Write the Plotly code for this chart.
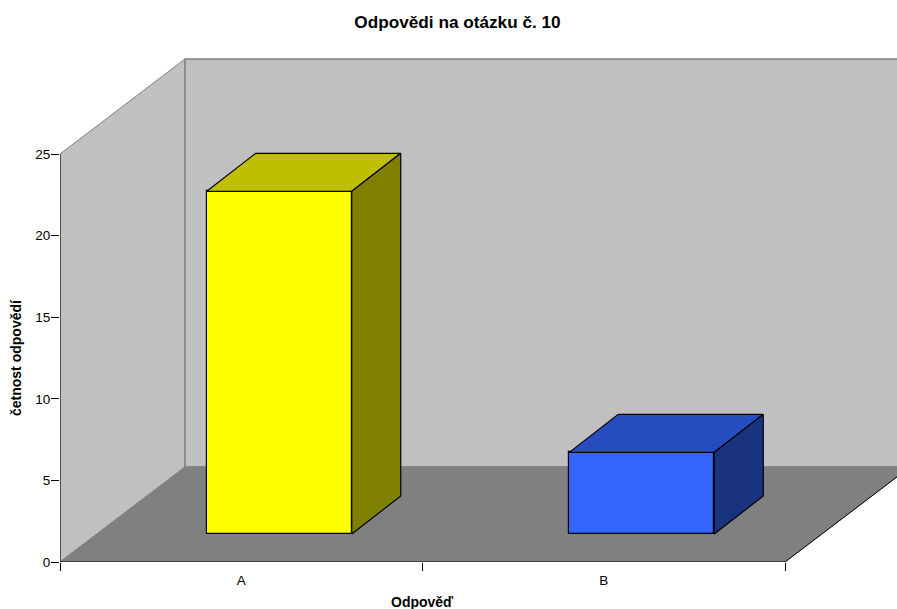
import plotly.graph_objects as go

categories = ["A", "B"]
values = [21, 5]
front_colors = ["#FFFF00", "#3366FF"]
top_colors = ["#BFBF00", "#264CBF"]
side_colors = ["#808000", "#19337F"]
y_ticks = [0, 5, 10, 15, 20, 25]
title_text = "Odpovědi na otázku č. 10"
x_title = "Odpověď"
y_title = "četnost odpovědí"

Y_MAX = 25
PX_X = 362.5          # pixels per category
PX_Y = 16.32          # pixels per count
WALL_DX = 125 / PX_X  # floor depth along x
WALL_DY = 95 / PX_Y   # floor depth along y
BAR_W = 145 / PX_X
BAR_SHIFT_X = 38 / PX_X
BAR_SHIFT_Y = 28 / PX_Y
BAR_DX = 49 / PX_X
BAR_DY = 38 / PX_Y
n = len(categories)
M_TOP, M_BOTTOM, M_LEFT = 50, 47, 60
PLOT_H = 609 - M_TOP - M_BOTTOM
PLOT_W = 897 - M_LEFT


def path(pts):
    return "M" + " L".join(f"{x},{y}" for x, y in pts) + " Z"


def panel(pts, fill, line, width=1):
    return dict(type="path", xref="x", yref="y", layer="below", path=path(pts),
                fillcolor=fill, line=dict(color=line, width=width))


shapes = [
    panel([(0, 0), (0, Y_MAX), (WALL_DX, Y_MAX + WALL_DY), (WALL_DX, WALL_DY)], "#C0C0C0", "#808080"),
    panel([(WALL_DX, WALL_DY), (WALL_DX, Y_MAX + WALL_DY), (n + WALL_DX, Y_MAX + WALL_DY), (n + WALL_DX, WALL_DY)],
          "#C0C0C0", "#808080", 1.5),
    panel([(0, 0), (n, 0), (n + WALL_DX, WALL_DY), (WALL_DX, WALL_DY)], "#808080", "#808080"),
]

fig = go.Figure()

centres = [i + 0.5 + BAR_SHIFT_X for i in range(n)]
fig.add_trace(go.Bar(
    x=centres, y=values, base=[BAR_SHIFT_Y] * n, width=BAR_W,
    marker=dict(color=front_colors, line=dict(color="black", width=1.2)),
    hoverinfo="skip", showlegend=False,
))

for c, v, top, side in zip(centres, values, top_colors, side_colors):
    x0, x1 = c - BAR_W / 2, c + BAR_W / 2
    y0, y1 = BAR_SHIFT_Y, BAR_SHIFT_Y + v
    fig.add_trace(go.Scatter(
        x=[x0, x1, x1 + BAR_DX, x0 + BAR_DX, x0],
        y=[y1, y1, y1 + BAR_DY, y1 + BAR_DY, y1],
        mode="lines", fill="toself", fillcolor=top,
        line=dict(color="black", width=1.2), hoverinfo="skip", showlegend=False))
    fig.add_trace(go.Scatter(
        x=[x1, x1 + BAR_DX, x1 + BAR_DX, x1, x1],
        y=[y0, y0 + BAR_DY, y1 + BAR_DY, y1, y0],
        mode="lines", fill="toself", fillcolor=side,
        line=dict(color="black", width=1.2), hoverinfo="skip", showlegend=False))

# axis lines and the floor's open edge
fig.add_trace(go.Scatter(x=[0, 0], y=[Y_MAX, 0], mode="lines", cliponaxis=False,
                         line=dict(color="black", width=1), hoverinfo="skip", showlegend=False))
fig.add_trace(go.Scatter(x=[0, n, n + WALL_DX], y=[0, 0, WALL_DY], mode="lines", cliponaxis=False,
                         line=dict(color="black", width=1), hoverinfo="skip", showlegend=False))

FONT = "Liberation Sans, Arial, sans-serif"
fig.update_layout(
    width=897, height=609,
    margin=dict(l=M_LEFT, r=0, t=M_TOP, b=M_BOTTOM, pad=0),
    paper_bgcolor="white", plot_bgcolor="white",
    bargap=0,
    font=dict(family=FONT, size=13.5, color="black"),
    title=dict(text=f"<b>{title_text}</b>", x=457.5 / 897, xanchor="center",
               y=1 - 22 / 609, yanchor="middle", font=dict(size=17.2, color="black")),
    shapes=shapes,
    xaxis=dict(range=[0, PLOT_W / PX_X], showgrid=False, zeroline=False, showline=False,
               tickmode="array", tickvals=[i + 0.5 for i in range(n)], ticktext=categories,
               ticks="", ticklen=0, ticklabelstandoff=8,
               minor=dict(tickmode="array", tickvals=list(range(n + 1)), ticks="outside",
                          ticklen=8, tickcolor="black", tickwidth=1, showgrid=False),
               tickfont=dict(size=13.5)),
    yaxis=dict(range=[0, PLOT_H / PX_Y], showgrid=False, zeroline=False, showline=False,
               tickmode="array", tickvals=y_ticks, ticks="outside", ticklen=8,
               ticklabelstandoff=-2,
               tickcolor="black", tickwidth=1, tickfont=dict(size=13.5)),
    annotations=[
        dict(text=f"<b>{x_title}</b>", xref="x", x=n / 2, yref="paper",
             y=-(602 - (609 - M_BOTTOM)) / PLOT_H, xanchor="center", yanchor="middle",
             showarrow=False, font=dict(size=14)),
        dict(text=f"<b>{y_title}</b>", xref="paper", x=(16 - M_LEFT) / PLOT_W, yref="y",
             y=Y_MAX / 2, xanchor="center", yanchor="middle", textangle=-90,
             showarrow=False, font=dict(size=14)),
    ],
)

fig.write_html("out.html", config={"displayModeBar": False},
               post_script="document.body.style.margin='0';")
